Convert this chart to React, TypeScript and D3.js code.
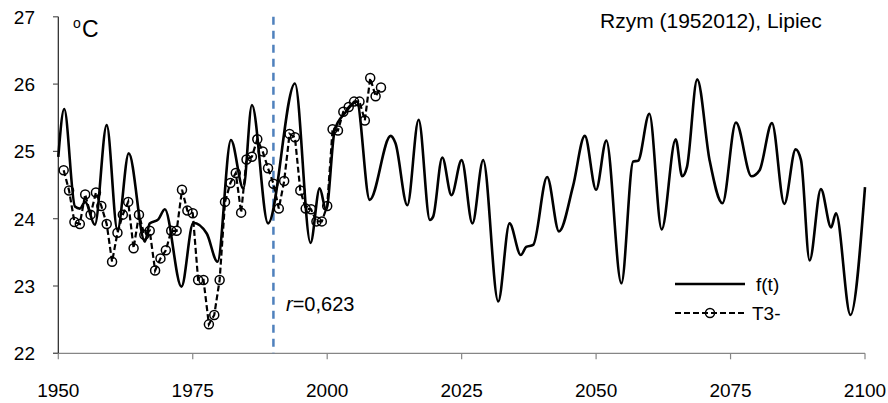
import React from "react";
import * as d3 from "d3";

// Model curve f(t): years and July mean temperature (°C)
const fYears = [
  1950.0, 1951.1, 1953.1, 1954.0, 1955.0, 1956.8, 1959.0, 1961.0, 1963.1, 1966.1,
  1967.0, 1968.6, 1969.8, 1972.9, 1975.1, 1977.6, 1979.6, 1982.1, 1984.4, 1986.0,
  1989.0, 1994.0, 1996.9, 1998.6, 1999.8, 2001.4, 2003.3, 2005.5, 2007.9, 2011.8,
  2012.7, 2014.9, 2017.0, 2019.1, 2019.7, 2021.4, 2023.1, 2025.0, 2027.0, 2029.0,
  2031.8, 2033.9, 2036.0, 2037.0, 2038.3, 2040.9, 2043.1, 2045.7, 2047.9, 2050.0,
  2051.9, 2054.7, 2056.9, 2057.8, 2059.9, 2062.2, 2064.8, 2066.0, 2066.9, 2068.8,
  2071.1, 2073.5, 2076.0, 2078.9, 2080.4, 2082.7, 2085.0, 2087.1, 2088.1, 2089.7,
  2091.8, 2093.7, 2094.6, 2097.3, 2100.0,
];
const fValues = [
  24.92, 25.63, 24.18, 24.15, 24.25, 23.91, 25.39, 23.83, 24.97, 23.66,
  23.93, 23.99, 24.14, 22.99, 23.94, 23.78, 23.36, 25.17, 24.45, 25.69,
  23.93, 26.01, 23.64, 24.45, 24.13, 25.32, 25.57, 25.74, 24.28, 25.23,
  25.12, 24.20, 25.47, 23.98, 24.03, 24.91, 24.35, 24.87, 23.93, 24.87,
  22.77, 23.93, 23.46, 23.58, 23.61, 24.62, 23.81, 24.48, 25.23, 24.43,
  25.16, 23.04, 24.85, 24.86, 25.56, 23.84, 25.18, 24.63, 24.77, 26.07,
  24.87, 24.23, 25.43, 24.63, 24.72, 25.42, 24.22, 25.03, 24.87, 23.38,
  24.44, 23.87, 24.08, 22.57, 24.47,
];

// Observed series T3- (1951–2010)
const tYears = d3.range(1951, 2011);
const tValues = [
  24.72, 24.42, 23.95, 23.92, 24.36, 24.06, 24.39, 24.19, 23.92, 23.36,
  23.79, 24.06, 24.25, 23.56, 24.06, 23.76, 23.82, 23.23, 23.41, 23.53,
  23.82, 23.82, 24.43, 24.12, 24.08, 23.09, 23.09, 22.43, 22.57, 23.09,
  24.25, 24.53, 24.68, 24.09, 24.88, 24.92, 25.18, 25.0, 24.75, 24.52,
  24.15, 24.56, 25.26, 25.21, 24.42, 24.15, 24.14, 23.96, 23.96, 24.19,
  25.33, 25.31, 25.59, 25.66, 25.74, 25.74, 25.46, 26.09, 25.82, 25.95,
];

const xTicks = [1950, 1975, 2000, 2025, 2050, 2075, 2100];
const yTicks = [22, 23, 24, 25, 26, 27];
const splitYear = 1990;
const title = "Rzym (1952012), Lipiec";
const rLabel = "0,623";

const W = 888;
const H = 403;
const FONT = "'Liberation Sans', Arial, sans-serif";

export default function App() {
  const x = d3.scaleLinear().domain([1950, 2100]).range([58.3, 865]);
  const y = d3.scaleLinear().domain([22, 27]).range([353.3, 16.8]);

  const fData = fYears.map((yr, i) => [yr, fValues[i]] as [number, number]);
  const tData = tYears.map((yr, i) => [yr, tValues[i]] as [number, number]);

  const fLine = d3
    .line<[number, number]>()
    .x((d) => x(d[0]))
    .y((d) => y(d[1]))
    .curve(d3.curveMonotoneX);
  const tLine = d3
    .line<[number, number]>()
    .x((d) => x(d[0]))
    .y((d) => y(d[1]));

  const x0 = x(1950);
  const y0 = y(22);

  return (
    <svg
      width={W}
      height={H}
      style={{ position: "absolute", left: 0, top: 0, background: "#fff" }}
      fontFamily={FONT}
    >
      {/* axes */}
      <line x1={53} x2={x(2100)} y1={y0} y2={y0} stroke="#868686" strokeWidth={1.2} />
      <line x1={x0} x2={x0} y1={y(27)} y2={y0} stroke="#222" strokeWidth={1.2} />
      {yTicks.map((t) => (
        <g key={`y${t}`}>
          <line x1={53} x2={x0} y1={y(t)} y2={y(t)} stroke="#555" strokeWidth={1.2} />
          <text x={35} y={y(t)} dy="0.36em" textAnchor="end" fontSize={19} fill="#000">
            {t}
          </text>
        </g>
      ))}
      {xTicks.map((t) => (
        <g key={`x${t}`}>
          <line x1={x(t)} x2={x(t)} y1={y0} y2={y0 + 6} stroke="#868686" strokeWidth={1.2} />
          <text x={x(t)} y={397} textAnchor="middle" fontSize={19} fill="#000">
            {t}
          </text>
        </g>
      ))}

      {/* unit */}
      <text x={73} y={28} fontSize={14} fill="#000">o</text>
      <text x={82} y={37} fontSize={23} fill="#000">C</text>

      {/* title */}
      <text x={600} y={28} fontSize={21} fill="#000">{title}</text>

      {/* split marker */}
      <line
        x1={x(splitYear)}
        x2={x(splitYear)}
        y1={y(27)}
        y2={y0}
        stroke="#4f81bd"
        strokeWidth={2.5}
        strokeDasharray="8,6"
      />
      <text x={286} y={311} fontSize={20} fill="#000">
        <tspan fontStyle="italic">r</tspan>={rLabel}
      </text>

      {/* model curve */}
      <path d={fLine(fData) ?? ""} fill="none" stroke="#000" strokeWidth={2.6} strokeLinejoin="round" />

      {/* observed series */}
      <path
        d={tLine(tData) ?? ""}
        fill="none"
        stroke="#000"
        strokeWidth={2.2}
        strokeDasharray="6,3"
      />
      {tData.map((d, i) => (
        <circle
          key={i}
          cx={x(d[0])}
          cy={y(d[1])}
          r={4.5}
          fill="none"
          stroke="#000"
          strokeWidth={1.5}
        />
      ))}

      {/* legend */}
      <line x1={675} x2={745} y1={284} y2={284} stroke="#000" strokeWidth={2.6} />
      <text x={756} y={291} fontSize={19} fill="#000">f(t)</text>
      <line x1={675} x2={745} y1={313} y2={313} stroke="#000" strokeWidth={2.2} strokeDasharray="6,3" />
      <circle cx={710} cy={313} r={4.5} fill="none" stroke="#000" strokeWidth={1.5} />
      <text x={752} y={320} fontSize={19} fill="#000">T3-</text>
    </svg>
  );
}
